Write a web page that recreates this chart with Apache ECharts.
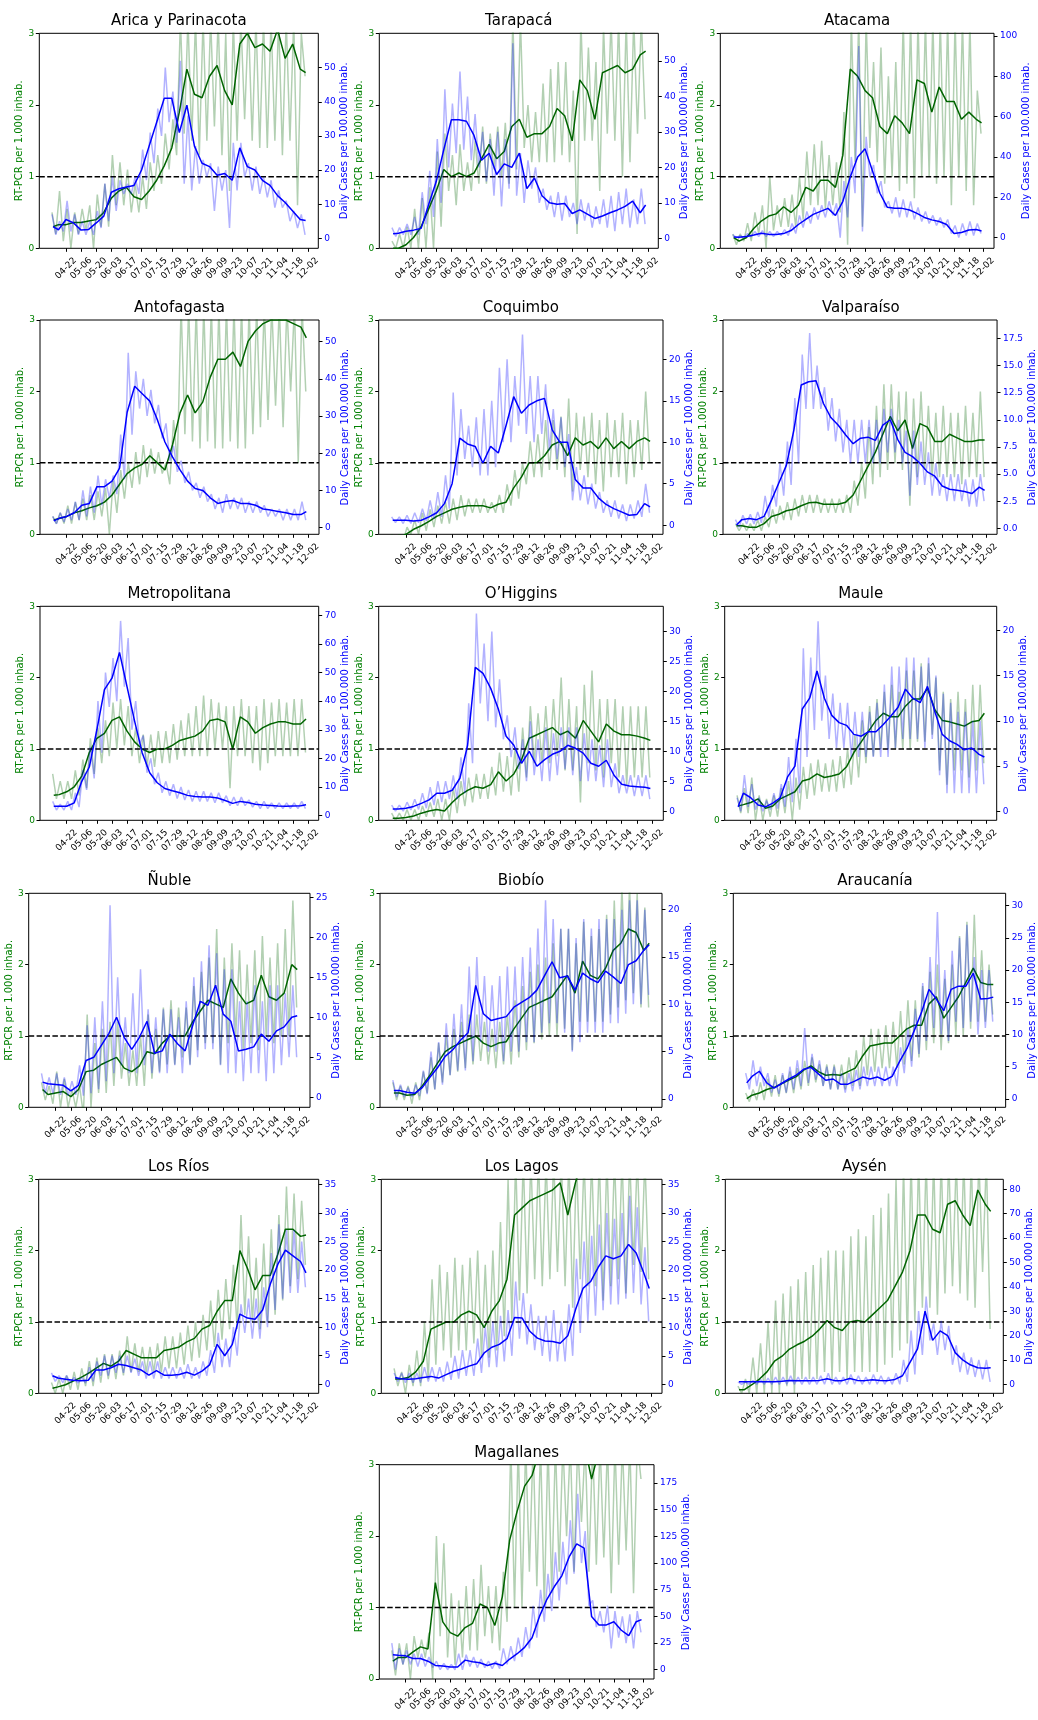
<!DOCTYPE html>
<html><head><meta charset="utf-8">
<script src="https://cdn.jsdelivr.net/npm/echarts@6/dist/echarts.min.js"></script>
<style>html,body{margin:0;padding:0;background:#fff}#c{width:1038px;height:1720px}</style>
</head><body><div id="c"></div><script>
// ---- shared dates (day 0 = 04-22) ----
const tickDays = [0,14,28,42,56,70,84,98,112,126,140,154,168,182,196,210,224];
const tickLabels = ['04-22','05-06','05-20','06-03','06-17','07-01','07-15','07-29','08-12','08-26','09-09','09-23','10-07','10-21','11-04','11-18','12-02'];
const smoothDays = [-12,-7,0,7,14,21,28,35,42,49,56,63,70,77,84,91,98,105,112,119,126,133,140,147,154,161,168,175,182,189,196,203,210,217,222];
const rawDays = Array.from({length:68},(_, k)=>-13+3.5*k);
const regionNames = ['Arica y Parinacota','Tarapacá','Atacama','Antofagasta','Coquimbo','Valparaíso','Metropolitana','O’Higgins','Maule','Ñuble','Biobío','Araucanía','Los Ríos','Los Lagos','Aysén','Magallanes'];
const casesTicks = [
 [0,10,20,30,40,50],[0,10,20,30,40,50],[0,20,40,60,80,100],
 [0,10,20,30,40,50],[0,5,10,15,20],[0,2.5,5,7.5,10,12.5,15,17.5],
 [0,10,20,30,40,50,60,70],[0,5,10,15,20,25,30],[0,5,10,15,20],
 [0,5,10,15,20,25],[0,5,10,15,20],[0,5,10,15,20,25,30],
 [0,5,10,15,20,25,30,35],[0,5,10,15,20,25,30,35],[0,10,20,30,40,50,60,70,80],
 [0,25,50,75,100,125,150,175]];
const referenceLevel = 1;

// ---- values ----
const aricaRtpcr = [0.3,0.33,0.33,0.36,0.36,0.38,0.4,0.5,0.7,0.8,0.85,0.72,0.68,0.8,0.95,1.15,1.4,1.9,2.5,2.15,2.1,2.4,2.55,2.2,2.0,2.85,3.0,2.8,2.85,2.75,3.05,2.65,2.85,2.5,2.45];
const aricaCases = [3.4,2.5,5.5,4.5,2.4,2.6,4.5,6.5,13.5,14.5,15,15.5,20,27,34,41,41,31,39,27,22,21,18.5,19,17,26.5,21,20,17,15.5,12.5,10.5,8,5.5,5.2];
const aricaRtpcrRaw = [0.5,0.2,0.8,0.1,0.55,0.0,0.5,0.2,0.55,0.25,0.6,0.0,0.75,0.3,0.9,0.3,1.3,0.6,1.2,0.6,1.1,0.5,0.9,0.5,1.0,0.55,1.2,0.8,1.3,0.9,1.6,1.1,1.8,1.3,3.2,1.6,3.2,1.5,3.2,1.3,3.2,1.5,3.2,1.7,3.2,1.3,3.0,0.8,3.2,1.5,3.2,1.8,3.2,1.5,3.2,1.4,3.2,1.4,3.2,1.5,3.2,1.3,3.2,1.5,3.2,0.6,3.0,2.4];
const aricaCasesRaw = [7,1,5,2,11,2,7,1,5,1,5,1,8,3,16,5,18,8,17,13,16,13,18,13,26,17,31,22,38,30,50,34,43,28,52,16,36,14,27,16,23,18,22,8,21,14,20,3,28,14,28,18,22,14,21,13,18,12,17,9,14,9,11,5,8,3,7,1];

const tarapacaRtpcr = [0,0,0.05,0.15,0.3,0.55,0.8,1.1,1.0,1.05,1.0,1.05,1.25,1.45,1.25,1.35,1.7,1.8,1.55,1.6,1.6,1.7,1.95,1.85,1.5,2.35,2.2,1.8,2.45,2.5,2.55,2.45,2.5,2.7,2.75];
const tarapacaCases = [1.3,1.4,2.0,2.3,2.8,9.5,16,25,33.4,33.4,33,29,22,24,18,21,20,24,14,17,12,10,9.6,9.8,7,8,6.8,5.6,6.3,7.2,8,9,10.5,7.2,9.4];
const tarapacaRtpcrRaw = [0.1,0.0,0.2,0.0,0.3,0.0,0.55,0.0,0.7,0.0,0.85,0.0,1.35,0.3,1.6,0.8,1.3,0.6,1.45,0.8,1.2,0.8,1.5,0.9,1.7,0.9,1.6,1.1,1.7,1.0,1.75,0.9,3.2,1.1,3.2,1.4,2.0,1.2,1.9,1.2,2.3,1.2,2.5,1.2,2.6,1.3,2.6,1.2,2.2,0.2,3.2,1.5,2.8,1.5,2.6,0.8,3.1,1.6,3.2,1.5,3.2,1.0,3.2,1.2,3.2,1.6,3.2,1.8];
const tarapacaCasesRaw = [3,0.5,3,1,4,1,6,1,13,4,19,6,28,10,42,20,38,24,47,25,40,22,35,20,30,16,28,12,30,9,28,14,55,12,24,10,22,14,20,10,14,8,12,6,13,5,12,6,10,4,11,5,10,3,9,4,11,3,12,2,13,4,14,3,11,4,14,4];

const atacamaRtpcr = [0.15,0.1,0.15,0.28,0.38,0.45,0.48,0.58,0.5,0.6,0.85,0.8,0.95,0.95,0.85,1.3,2.5,2.4,2.2,2.1,1.7,1.6,1.85,1.75,1.6,2.35,2.3,1.9,2.25,2.05,2.05,1.8,1.9,1.8,1.75];
const atacamaCases = [0.3,0.2,0.6,1.3,2.2,1.6,1.5,2.0,3.5,6.5,9,11.5,13,14.5,11,18,30,40,44,33,22,15,14.5,14.5,13.7,12,10,8.8,8,6.5,2,2.5,3.8,4,3.3];
const atacamaRtpcrRaw = [0.2,0.05,0.2,0.1,0.35,0.1,0.5,0.2,0.6,0.0,1.0,0.25,0.6,0.3,0.7,0.3,0.75,0.3,1.0,0.4,1.35,0.6,1.45,0.6,1.5,0.55,1.3,0.6,1.2,0.5,1.9,0.05,3.2,1.2,3.2,0.3,3.2,1.4,2.6,1.2,2.8,0.9,2.4,1.0,2.6,0.8,3.2,0.9,3.2,0.7,3.2,1.0,3.2,1.0,3.2,0.9,3.2,1.0,3.2,0.6,3.2,1.0,3.2,0.8,3.2,0.6,2.2,1.6];
const atacamaCasesRaw = [1.5,0,1,0,2,0.5,3,0.5,3.5,0.5,3,0.5,3,1,4,1,7,2,11,5,13,7,15,9,16,10,18,11,17,0,28,10,40,22,95,3,50,30,36,22,28,15,18,12,20,10,19,10,18,9,15,8,13,7,11,6,10,5,9,2,6,0,7,1,8,1,7,2];

const antofagastaRtpcr = [0.2,0.22,0.25,0.3,0.33,0.37,0.4,0.45,0.55,0.7,0.85,0.93,0.98,1.1,1.0,0.9,1.25,1.7,1.95,1.7,1.85,2.2,2.45,2.45,2.55,2.35,2.7,2.85,2.95,3.0,3.0,3.0,2.95,2.9,2.75];
const antofagastaCases = [1.8,2.5,3,4,6,6.5,11,11,12.5,16,31,38,36,34,29,23,19,15.5,12.5,10.5,10,8,6.5,7,7.3,6.5,6.5,6,5,4.7,4.3,4,3.5,3.5,4.3];
const antofagastaRtpcrRaw = [0.25,0.15,0.3,0.15,0.4,0.15,0.45,0.2,0.5,0.2,0.55,0.2,0.6,0.25,0.65,0.0,0.75,0.3,0.9,0.5,1.0,0.65,1.15,0.7,1.25,0.8,1.2,0.85,1.15,0.85,1.0,0.7,1.6,1.0,3.2,1.4,3.2,1.3,3.2,1.2,3.2,1.3,3.2,1.2,3.2,1.2,3.2,1.3,3.2,1.2,3.2,1.2,3.2,1.4,3.2,1.5,3.2,1.6,3.2,1.8,3.2,1.5,3.2,2.0,3.2,1.0,3.2,2.0];
const antofagastaCasesRaw = [3,1,4,1.5,5,2,7,2,10,3,11,4,14,6,13,8,14,9,25,13,47,25,42,32,40,30,37,28,33,24,28,18,22,15,18,12,15,10,12,8,11,7,9,5,8,4,9,5,8,5,8,4,7,4,7,4,6,3,5,3,5,2,5,2,5,2,7,2];

const coquimboRtpcr = [-0.1,-0.05,0.0,0.07,0.12,0.18,0.25,0.3,0.35,0.38,0.4,0.4,0.4,0.37,0.42,0.45,0.65,0.8,1.0,1.0,1.1,1.25,1.3,1.1,1.35,1.25,1.3,1.2,1.35,1.2,1.3,1.2,1.3,1.35,1.3];
const coquimboCases = [0.6,0.6,0.6,0.5,0.6,1.0,1.5,2.6,5.0,10.5,9.8,9.5,7.5,9.5,8.7,12,15.5,13.5,14.5,15,15.3,11.5,10,10,5.5,4.5,4.5,3.3,2.5,2,1.6,1.2,1.3,2.6,2.2];
const coquimboRtpcrRaw = [0.0,-0.1,0.0,-0.1,0.1,0.0,0.2,0.0,0.3,0.05,0.35,0.1,0.4,0.15,0.45,0.15,0.5,0.2,0.55,0.25,0.5,0.3,0.5,0.3,0.5,0.3,0.45,0.3,0.55,0.3,0.7,0.4,0.9,0.5,1.0,0.7,1.3,0.8,1.4,0.8,1.6,0.9,1.6,0.9,1.65,0.8,1.9,0.6,1.7,0.9,1.65,0.8,1.7,0.7,1.6,0.6,1.7,0.8,1.6,0.8,1.7,0.7,1.6,0.8,1.6,0.9,2.0,1.0];
const coquimboCasesRaw = [1,0.3,1,0.2,1.2,0.2,1.5,0.3,2,0.5,3,0.8,4,1,6,2,16,6,14,8,12,7,13,6,14,6,15,7,19,10,20,10,18,12,23,11,18,10,18,11,17,9,14,8,13,7,11,3,7,3,6,2.5,5,2,4,1.5,3,1,3,0.8,2.5,0.5,2.5,0.8,3,1,5,1.5];

const valparaisoRtpcr = [0.12,0.12,0.1,0.1,0.15,0.25,0.28,0.33,0.35,0.4,0.44,0.45,0.42,0.42,0.42,0.45,0.55,0.75,0.95,1.15,1.4,1.65,1.45,1.6,1.2,1.55,1.5,1.3,1.3,1.4,1.35,1.3,1.3,1.32,1.32];
const valparaisoCases = [0.3,0.8,0.9,0.8,1.1,2.6,4.2,5.8,9,13.2,13.5,13.6,11.5,10.2,9.5,8.6,7.8,8.3,8.4,8.1,9.5,10,8.2,7,6.6,6,5.2,4.8,3.9,3.6,3.5,3.4,3.2,3.8,3.5];
const valparaisoRtpcrRaw = [0.15,0.05,0.15,0.05,0.15,0.05,0.2,0.05,0.25,0.1,0.35,0.15,0.4,0.2,0.45,0.2,0.5,0.25,0.55,0.3,0.55,0.3,0.55,0.3,0.5,0.3,0.5,0.3,0.5,0.3,0.55,0.3,0.75,0.4,1.0,0.5,1.5,0.7,1.8,0.8,2.1,0.9,2.1,1.0,2.0,0.9,2.0,0.4,1.9,0.8,2.0,0.9,1.8,0.8,1.7,0.8,1.8,0.8,1.7,0.8,1.7,0.7,1.8,0.8,1.7,0.8,2.0,0.8];
const valparaisoCasesRaw = [0.8,0.1,1.2,0.4,1.3,0.4,1.5,0.5,3,1,4,2,6,3,8,4,12,6,16,11,18,11,15,11,13,9,12,8,11,7,10,6,10,6,10,6,10,6,10,6,11,7,11,7,10,6,9,3,9,4,8,4,7,3,6,3,5,2.5,5,2.5,5,2.5,4.5,2,4.5,2,5,2.5];

const metropolitanaRtpcr = [0.35,0.36,0.4,0.47,0.62,0.95,1.15,1.22,1.4,1.45,1.25,1.1,1.0,0.95,1.0,1.0,1.05,1.12,1.15,1.18,1.25,1.4,1.42,1.38,1.0,1.45,1.38,1.22,1.3,1.35,1.38,1.38,1.35,1.35,1.42];
const metropolitanaCases = [3.3,3.3,3.3,4.5,12,17,30,44,48,57,45,33,22,15,11.5,9.5,8.7,8,7.1,6.7,6.5,6.5,6.2,5.3,4.3,5.0,4.6,4.0,3.7,3.6,3.4,3.3,3.4,3.5,3.8];
const metropolitanaRtpcrRaw = [0.65,0.3,0.55,0.3,0.55,0.3,0.7,0.35,0.85,0.45,1.15,0.65,1.3,0.8,1.4,0.9,1.65,1.0,1.7,1.05,1.6,0.9,1.3,0.8,1.2,0.75,1.2,0.75,1.25,0.8,1.25,0.8,1.35,0.85,1.4,0.9,1.5,0.9,1.6,0.9,1.75,0.9,1.7,1.0,1.65,1.0,1.6,0.45,1.6,0.9,1.7,0.9,1.6,0.8,1.6,0.7,1.7,0.8,1.65,0.9,1.7,0.9,1.65,0.9,1.7,0.9,1.7,0.95];
const metropolitanaCasesRaw = [5,2,4,2,5,2,8,3,16,9,24,13,40,22,50,38,55,40,68,45,62,30,40,25,28,15,20,11,15,8,12,7,11,6,10,5.5,9,5,8.5,5,8.5,5,8,4.5,8,4.5,7,3.5,6.5,3.5,6.5,3.5,5.5,3,5,2.5,5,2.5,4.5,2.5,4.5,2.5,4.5,2.5,4.5,2.5,5,2.5];

const ohigginsRtpcr = [0.03,0.03,0.04,0.06,0.1,0.13,0.15,0.13,0.25,0.35,0.42,0.47,0.45,0.5,0.68,0.55,0.65,0.85,1.15,1.2,1.25,1.3,1.2,1.25,1.15,1.4,1.25,1.1,1.35,1.25,1.2,1.2,1.18,1.15,1.12];
const ohigginsCases = [0.35,0.35,0.5,0.8,1.3,1.9,3,3,3.5,5.5,11,24,23,20.5,17,12.5,11,8,10,7.5,8.6,9.5,10,11,10.5,9.7,8,7.5,8.5,6,4.5,4.2,4.1,4.0,3.8];
const ohigginsRtpcrRaw = [0.1,0.0,0.1,0.0,0.15,0.0,0.15,0.0,0.2,0.05,0.25,0.05,0.3,0.0,0.3,0.0,0.45,0.1,0.55,0.2,0.6,0.25,0.65,0.3,0.65,0.3,0.75,0.35,0.95,0.4,0.9,0.35,1.0,0.4,1.3,0.6,1.6,0.8,1.5,0.8,1.6,0.8,1.7,0.9,2.0,0.7,1.7,0.7,1.6,0.25,1.9,0.8,2.1,0.7,1.7,0.6,1.7,0.8,1.7,0.6,1.6,0.5,1.6,0.6,1.6,0.6,1.6,0.6];
const ohigginsCasesRaw = [1,0,1,0,1.5,0.2,2,0.3,3,0.5,4,1,5,1.5,5,2,6,2,9,3,18,8,33,18,28,15,30,14,22,12,16,9,14,7,12,5,15,6,12,5,14,5,13,6,14,7,14,6,14,5,13,5,12,5,11,4,12,4,8,3,6,3,6,2.5,6,2.5,6,2];

const mauleRtpcr = [0.2,0.22,0.25,0.3,0.17,0.2,0.3,0.35,0.4,0.55,0.58,0.65,0.6,0.62,0.65,0.75,0.95,1.1,1.25,1.4,1.5,1.45,1.45,1.6,1.7,1.7,1.85,1.55,1.4,1.38,1.35,1.32,1.38,1.4,1.5];
const mauleCases = [0.5,2.0,1.5,0.7,0.5,0.9,1.5,3.8,5.0,11.3,12.5,15.5,12.5,10.6,9.8,9.5,8.5,8.3,8.8,8.8,9.6,10.5,11.5,13.5,12.5,12,13.8,11,8.5,7.8,7.4,6.8,7,6.3,6];
const mauleRtpcrRaw = [0.35,0.1,0.45,0.1,0.6,0.0,0.35,0.0,0.3,0.05,0.35,0.05,0.45,0.1,0.55,0.0,0.6,0.15,0.75,0.3,0.8,0.35,0.85,0.4,0.8,0.4,0.85,0.4,0.9,0.45,1.0,0.5,1.2,0.6,1.4,0.8,1.6,0.9,1.7,1.0,1.8,1.0,1.9,1.0,1.8,1.0,2.1,1.0,2.1,1.1,2.2,1.1,2.2,1.2,2.0,0.7,1.8,0.5,1.7,0.7,1.8,0.7,1.7,0.6,1.9,0.7,1.9,0.8];
const mauleCasesRaw = [1.5,0,4,0.5,3,0.2,1.5,0,1.2,0.2,2,0.3,3,0.5,6,1,8,2,18,6,17,9,21,10,15,8,13,7,12,7,12,6,11,6,11,6,11,6,12,6,14,6,16,7,16,8,17,8,17,8,16,7,17,8,15,4,13,2,12,2,11,2,11,2,10,2,10,3];

const nubleRtpcr = [0.25,0.18,0.2,0.22,0.15,0.25,0.5,0.52,0.6,0.65,0.7,0.55,0.5,0.58,0.78,0.75,0.9,1.0,1.0,1.0,1.2,1.35,1.5,1.45,1.4,1.8,1.6,1.45,1.5,1.85,1.55,1.5,1.6,2.0,1.93];
const nubleCases = [1.9,1.7,1.6,1.5,0.8,1.5,4.6,5,6.5,8,10,7.5,6,7.5,9.5,5.5,5.8,7.9,6.7,5.8,9,12,11.5,14,10.4,9.5,5.8,6,6.3,7.9,7,8.3,8.8,10,10.2];
const nubleRtpcrRaw = [0.35,0.1,0.3,0.05,0.5,0.0,0.4,0.0,0.25,0.0,0.3,-0.1,1.3,0.0,0.9,0.2,1.1,0.2,1.2,0.3,1.2,0.4,0.9,0.3,0.8,0.3,1.0,0.3,1.3,0.4,1.1,0.5,1.4,0.6,1.5,0.6,1.4,0.7,1.4,0.6,1.7,0.8,1.9,0.9,2.1,0.9,2.5,0.6,2.1,0.9,2.3,1.0,2.2,0.8,2.0,0.9,2.2,0.8,2.4,1.0,2.1,0.9,2.3,1.0,2.5,1.0,2.9,1.4];
const nubleCasesRaw = [3,0.5,2.5,0.5,3,0.3,2.5,0.2,2,0.3,4,0.2,9,0.5,10,1,12,2,24,3,15,4,10,3,13,3,16,4,11,3,10,3,11,3,11,4,10,3,12,4,15,5,17,6,19,6,18,4,16,3,16,3,12,2,12,3,14,3,12,2,14,3,14,4,13,5,14,5];

const biobioRtpcr = [0.2,0.2,0.17,0.18,0.3,0.45,0.62,0.78,0.85,0.9,0.95,1.0,0.9,0.85,0.9,0.92,1.1,1.25,1.4,1.45,1.5,1.55,1.7,1.85,1.6,2.05,1.85,1.8,1.95,2.2,2.3,2.5,2.45,2.2,2.3];
const biobioCases = [0.9,0.9,0.7,0.6,1.2,2.3,3.3,4.5,5.2,6.2,7,12,9,8.3,8.5,8.7,9.7,10.2,10.7,11.5,13,14.5,12.8,13,11.5,13.3,12.7,12.3,13.5,12.9,12.2,14.2,14.6,15.7,16.3];
const biobioRtpcrRaw = [0.35,0.1,0.3,0.1,0.3,0.05,0.35,0.1,0.5,0.2,0.7,0.25,0.9,0.35,1.0,0.45,1.1,0.5,1.2,0.55,1.3,0.6,1.3,0.65,1.2,0.6,1.1,0.55,1.2,0.6,1.3,0.6,1.5,0.7,1.7,0.8,1.9,0.9,2.0,0.95,2.1,1.0,2.3,1.0,2.5,1.1,2.5,0.8,2.3,1.2,2.6,1.2,2.4,1.2,2.5,1.2,2.7,1.3,2.9,1.4,3.1,1.5,3.1,1.6,3.0,1.4,2.8,1.4];
const biobioCasesRaw = [2,0.2,1.5,0.2,1.2,0.2,1.5,0.3,3,0.5,5,1,6,1.5,8,2.5,9,3,10,3,14,4,15,6,13,5,12,5,13,4,14,5,14,5,15,6,16,6,18,7,21,8,19,8,18,7,18,5,17,6,19,7,18,7,19,7,19,8,19,8,20,9,21,10,21,10,20,11];

const araucaniaRtpcr = [0.12,0.17,0.2,0.25,0.28,0.33,0.38,0.43,0.52,0.58,0.5,0.45,0.46,0.45,0.5,0.55,0.72,0.86,0.88,0.9,0.9,1.0,1.1,1.15,1.15,1.45,1.55,1.25,1.4,1.55,1.75,1.95,1.75,1.72,1.72];
const araucaniaCases = [2.5,3.5,4.3,2.5,1.7,2.4,3.1,3.7,4.6,4.9,3.9,2.9,3.1,2.3,2.3,2.8,3.4,3.1,3.4,2.9,3.5,5.8,7.8,10.6,13.5,17,15.5,13.7,17,17.5,17.5,19.5,15.5,15.6,15.8];
const araucaniaRtpcrRaw = [0.2,0.08,0.25,0.1,0.35,0.1,0.4,0.15,0.45,0.15,0.45,0.2,0.5,0.2,0.55,0.25,0.65,0.3,0.7,0.35,0.6,0.3,0.6,0.25,0.6,0.25,0.6,0.25,0.7,0.3,0.8,0.3,1.0,0.45,1.1,0.5,1.1,0.55,1.15,0.55,1.2,0.55,1.35,0.6,1.5,0.65,1.5,0.7,1.7,0.8,1.9,0.9,2.0,0.8,1.8,0.9,2.0,1.0,2.4,1.0,2.6,1.1,2.7,1.2,2.2,1.2,2.0,1.3];
const araucaniaCasesRaw = [4,1.5,6,2,5,2,4,1,3,0.8,4,1,5,1.5,6,2,11,2.5,7,3,6,2,5,1.5,5,1.5,4,1,4,1.2,4.5,1.5,5,2,5,2,5,2,5,2,5,2,8,4,11,5,14,7,18,9,22,11,29,10,20,9,23,12,25,11,27,12,22,10,20,11,20,12];

const losRiosRtpcr = [0.07,0.09,0.12,0.17,0.22,0.28,0.35,0.42,0.38,0.45,0.6,0.55,0.5,0.5,0.5,0.6,0.62,0.65,0.72,0.77,0.9,0.95,1.15,1.3,1.3,2.0,1.75,1.45,1.65,1.65,1.95,2.3,2.3,2.2,2.22];
const losRiosCases = [1.5,1.1,0.9,0.7,0.6,0.7,2.5,2.5,2.9,3.5,3.3,2.9,2.5,1.6,2.4,1.6,1.6,1.7,2.1,1.6,2.3,3.4,7,5,7,12.3,11.6,11.4,13,17.5,21,23.5,22.5,21.5,19.5];
const losRiosRtpcrRaw = [0.15,0.0,0.2,0.0,0.25,0.05,0.3,0.05,0.35,0.1,0.45,0.1,0.5,0.15,0.55,0.2,0.55,0.2,0.6,0.25,0.8,0.3,0.7,0.3,0.65,0.3,0.65,0.3,0.7,0.3,0.8,0.35,0.8,0.35,0.85,0.4,0.95,0.45,1.0,0.5,1.1,0.6,1.3,0.65,1.45,0.75,1.6,0.9,1.8,0.9,2.5,1.1,2.2,1.0,1.9,0.9,2.1,1.0,2.3,1.1,2.5,1.3,2.9,1.5,2.8,1.6,2.7,1.8];
const losRiosCasesRaw = [2,0.5,1.5,0.3,1.5,0.3,1.2,0.2,1.2,0.2,3,0.5,4,1.5,5,1.5,5,2,5,2,5,2,4.5,1.5,4,1,4,1,4,1,3,1,3,1,3,1,3.5,1,3,1,4,1.5,6,2,9,3,8,3,10,5,14,9,15,8,15,8,17,10,23,13,28,15,27,16,27,16,25,17];

const losLagosRtpcr = [0.2,0.2,0.22,0.3,0.45,0.9,0.95,1.0,1.0,1.1,1.15,1.1,0.92,1.15,1.3,1.6,2.5,2.6,2.7,2.75,2.8,2.85,2.95,2.5,2.95,3.3,3.3,3.3,3.3,3.3,3.3,3.3,3.3,3.3,3.3];
const losLagosCases = [1.2,1.0,0.9,1.0,1.2,1.4,1.1,1.7,2.3,2.7,3.2,3.6,5.5,6.5,7,8,11.7,11.6,9.3,8.1,7.6,7.5,7.2,8.5,13,16.8,18,20.5,22.5,22,22.5,24.5,23,19.5,16.8];
const losLagosRtpcrRaw = [0.35,0.1,0.3,0.0,0.4,0.1,0.6,0.1,1.0,0.2,1.6,0.4,1.8,0.6,1.7,0.5,1.9,0.6,1.8,0.6,1.9,0.7,2.0,0.5,1.8,0.5,2.0,0.6,2.4,0.8,3.0,1.0,3.3,1.3,3.3,1.4,3.3,1.6,3.3,1.5,3.3,1.6,3.3,1.7,3.3,1.5,3.3,1.2,3.3,1.6,3.3,1.5,3.3,1.5,3.3,1.3,3.3,1.5,3.3,1.6,3.3,1.4,3.3,1.8,3.3,1.7,3.3,1.6];
const losLagosCasesRaw = [2,0.5,2,0.3,2,0.3,2,0.3,3,0.5,3,0.5,3,0.5,4,0.8,5,1,6,1.5,6,1.5,8,2,10,3,11,3,12,4,13,5,18,8,16,7,14,6,12,5,12,4,13,4,11,4,14,5,22,9,25,11,26,12,28,13,30,14,29,14,30,15,33,16,31,14,24,11];

const aysenRtpcr = [0.05,0.05,0.12,0.2,0.3,0.45,0.52,0.62,0.68,0.73,0.8,0.9,1.02,0.92,0.88,1.0,1.02,1.0,1.1,1.2,1.3,1.5,1.7,2.0,2.5,2.5,2.3,2.25,2.65,2.7,2.5,2.35,2.85,2.65,2.55];
const aysenCases = [1.0,1.0,1.0,1.0,1.0,1.0,1.2,1.6,1.4,1.4,1.4,1.6,2.3,1.5,1.5,2.4,1.6,1.5,1.9,1.6,1.5,2.0,3.5,9,14.5,30,18,21.9,20,13,10,8,6.8,6.6,6.8];
const aysenRtpcrRaw = [0.1,0.0,0.2,0.0,0.5,0.0,0.7,0.0,1.0,0.0,1.3,0.0,1.4,0.1,1.5,0.0,1.6,0.2,1.7,0.2,1.8,0.2,1.9,0.3,2.0,0.2,2.0,0.3,2.0,0.2,2.2,0.3,2.3,0.3,2.2,0.3,2.5,0.3,2.6,0.4,2.8,0.5,3.0,0.6,3.2,0.7,3.3,1.0,3.3,1.2,3.3,1.2,3.3,1.1,3.3,1.4,3.3,1.5,3.3,1.4,3.3,1.3,3.3,1.2,3.3,1.7,3.3,0.9];
const aysenCasesRaw = [1,0,1,0,1.5,0,2,0,2.5,0,3,0,3,0,3.5,0,3,0,3,0,3,0,3.5,0,4.5,0,3,0,3,0,4,0,3.5,0,3,0,4,0,3.5,0,3,0,4.5,0,10,1,22,4,30,12,36,18,25,12,26,14,24,8,16,5,13,4,11,3,10,2,10,1];

const magallanesRtpcr = [0.25,0.3,0.3,0.38,0.45,0.42,1.35,0.8,0.65,0.6,0.72,0.78,1.05,1.0,0.75,1.15,1.95,2.35,2.7,2.85,3.2,3.3,3.4,3.5,3.5,3.5,3.3,2.8,3.2,3.4,3.5,3.5,3.5,3.5,3.5];
const magallanesCases = [14,13.5,13,10.5,10.5,8,4,3.5,2.5,2.5,9,7.5,6.5,4,6,4,10,15,21,30,50,66,78,88,106,118,114,50,42,42,45,37,32,45,47];
const magallanesRtpcrRaw = [0.4,0.05,0.5,0.2,0.5,0.0,0.6,0.3,0.55,0.3,0.65,0.0,2.0,0.6,1.9,0.3,1.2,0.2,1.1,0.3,1.3,0.4,1.4,0.4,1.6,0.6,1.3,0.5,1.3,0.4,1.5,0.8,3.3,1.0,3.3,1.0,3.3,1.5,3.3,1.3,3.3,1.0,3.3,1.2,3.3,1.5,3.3,2.0,3.3,1.5,3.3,2.2,3.3,1.5,3.3,1.6,3.3,1.7,3.3,1.2,3.3,1.6,3.3,1.8,3.3,1.2,3.3,2.8];
const magallanesCasesRaw = [25,0,20,5,18,5,15,3,15,3,12,2,8,0,6,0,5,0,15,0,14,3,12,2,10,2,8,1,8,1,20,5,22,8,30,12,40,20,60,30,75,45,90,55,110,65,120,80,140,90,165,100,130,60,65,40,55,35,60,20,55,30,50,25,52,20,55,35];

const rtpcrSmooth = [aricaRtpcr,tarapacaRtpcr,atacamaRtpcr,antofagastaRtpcr,coquimboRtpcr,valparaisoRtpcr,metropolitanaRtpcr,ohigginsRtpcr,mauleRtpcr,nubleRtpcr,biobioRtpcr,araucaniaRtpcr,losRiosRtpcr,losLagosRtpcr,aysenRtpcr,magallanesRtpcr];
const rtpcrRaw = [aricaRtpcrRaw,tarapacaRtpcrRaw,atacamaRtpcrRaw,antofagastaRtpcrRaw,coquimboRtpcrRaw,valparaisoRtpcrRaw,metropolitanaRtpcrRaw,ohigginsRtpcrRaw,mauleRtpcrRaw,nubleRtpcrRaw,biobioRtpcrRaw,araucaniaRtpcrRaw,losRiosRtpcrRaw,losLagosRtpcrRaw,aysenRtpcrRaw,magallanesRtpcrRaw];
const casesSmooth = [aricaCases,tarapacaCases,atacamaCases,antofagastaCases,coquimboCases,valparaisoCases,metropolitanaCases,ohigginsCases,mauleCases,nubleCases,biobioCases,araucaniaCases,losRiosCases,losLagosCases,aysenCases,magallanesCases];
const casesRaw = [aricaCasesRaw,tarapacaCasesRaw,atacamaCasesRaw,antofagastaCasesRaw,coquimboCasesRaw,valparaisoCasesRaw,metropolitanaCasesRaw,ohigginsCasesRaw,mauleCasesRaw,nubleCasesRaw,biobioCasesRaw,araucaniaCasesRaw,losRiosCasesRaw,losLagosCasesRaw,aysenCasesRaw,magallanesCasesRaw];

// ---- layout (pixels) ----
const layout = [
 {l:39.3,t:33.3,w:279,h:215,rmin:-2.93,rmax:60.06,gap:20},
 {l:379.3,t:33.3,w:279,h:215,rmin:-2.82,rmax:57.8,gap:20},
 {l:720.3,t:33.3,w:273.7,h:215,rmin:-5.3,rmax:101.3,gap:25},
 {l:40,t:320,w:279,h:214.3,rmin:-1.8,rmax:55.8,gap:20},
 {l:378.7,t:320,w:284.3,h:214.3,rmin:-1.1,rmax:24.75,gap:20},
 {l:723,t:320,w:275.7,h:214.3,rmin:-0.55,rmax:19.19,gap:27,dec:1},
 {l:40,t:606.3,w:278.7,h:214,rmin:-1.6,rmax:73.1,gap:20},
 {l:378.7,t:606.3,w:284.6,h:214,rmin:-1.52,rmax:34.2,gap:20},
 {l:724.7,t:606.3,w:272,h:214,rmin:-0.99,rmax:22.65,gap:20},
 {l:28.7,t:893.3,w:281.3,h:214,rmin:-1.25,rmax:25.5,gap:20},
 {l:380,t:893.3,w:282,h:214,rmin:-0.88,rmax:21.73,gap:20},
 {l:733.3,t:893.3,w:283.4,h:214,rmin:-1.29,rmax:31.9,gap:20},
 {l:38.7,t:1179.3,w:280,h:214,rmin:-1.58,rmax:35.9,gap:20},
 {l:381.3,t:1179.3,w:280.7,h:214,rmin:-1.56,rmax:35.9,gap:20},
 {l:725.3,t:1179.3,w:278,h:214,rmin:-3.7,rmax:84.1,gap:20},
 {l:379.3,t:1464.7,w:274.7,h:214.3,rmin:-8.7,rmax:192.2,gap:25}
];
const X_MIN = -24.75, X_MAX = 233.75;

const FONT = 'DejaVu Sans';
const DKGREEN = '#006400', GREEN_TXT = '#008000', BLUE = '#0000ff';
const grids=[], xAxes=[], yAxes=[], series=[], titles=[];
const pair = (days, vals) => days.map((d,k)=>[d, vals[k]]);

regionNames.forEach((name,i)=>{
  const L = layout[i];
  grids.push({left:L.l,top:L.t,width:L.w,height:L.h,show:true,borderColor:'#000',borderWidth:1,backgroundColor:'transparent'});
  titles.push({text:name,left:L.l+L.w/2,top:L.t-21,textAlign:'center',padding:0,
    textStyle:{fontFamily:FONT,fontSize:15,fontWeight:'normal',color:'#000',lineHeight:18}});
  xAxes.push({gridIndex:i,type:'value',min:X_MIN,max:X_MAX,splitLine:{show:false},axisLine:{show:false,onZero:false},
    axisTick:{show:true,length:3.5,customValues:tickDays.slice(),lineStyle:{color:'#000',width:1}},
    axisLabel:{customValues:tickDays.slice(),formatter:v=>{const k=tickDays.indexOf(Math.round(v));return k>=0?tickLabels[k]:'';},
      rotate:45,align:'center',verticalAlign:'middle',margin:20,fontSize:9,fontFamily:FONT,color:'#000',hideOverlap:false}});
  yAxes.push({gridIndex:i,type:'value',position:'left',min:0,max:3,interval:1,splitLine:{show:false},axisLine:{show:false,onZero:false},
    axisTick:{show:true,length:3.5,lineStyle:{color:'#000'}},
    axisLabel:{margin:5,fontSize:9,fontFamily:FONT,color:GREEN_TXT},
    name:'RT-PCR per 1.000 inhab.',nameLocation:'middle',nameRotate:90,nameGap:14.5,
    nameTextStyle:{fontSize:10,fontFamily:FONT,color:GREEN_TXT}});
  yAxes.push({gridIndex:i,type:'value',position:'right',min:L.rmin,max:L.rmax,splitLine:{show:false},axisLine:{show:false,onZero:false},
    axisTick:{show:true,length:3.5,customValues:casesTicks[i].slice(),lineStyle:{color:'#000'}},
    axisLabel:{customValues:casesTicks[i].slice(),formatter:v=>Number(v).toFixed(L.dec||0),margin:6,fontSize:9,fontFamily:FONT,color:BLUE},
    name:'Daily Cases per 100.000 inhab.',nameLocation:'middle',nameRotate:90,nameGap:L.gap,
    nameTextStyle:{fontSize:10,fontFamily:FONT,color:BLUE}});
  const base = {type:'line',xAxisIndex:i,showSymbol:false,symbol:'none',silent:true,clip:true,emphasis:{disabled:true},animation:false,tooltip:{show:false}};
  series.push(Object.assign({},base,{yAxisIndex:2*i,data:pair(rawDays,rtpcrRaw[i]),lineStyle:{color:DKGREEN,width:1.5,opacity:0.3}}));
  series.push(Object.assign({},base,{yAxisIndex:2*i,data:pair(smoothDays,rtpcrSmooth[i]),lineStyle:{color:DKGREEN,width:1.5}}));
  series.push(Object.assign({},base,{yAxisIndex:2*i,data:[[X_MIN,referenceLevel],[X_MAX,referenceLevel]],lineStyle:{color:'#000',width:1.5,type:[5.5,2.4]}}));
  series.push(Object.assign({},base,{yAxisIndex:2*i+1,data:pair(rawDays,casesRaw[i]),lineStyle:{color:BLUE,width:1.5,opacity:0.3}}));
  series.push(Object.assign({},base,{yAxisIndex:2*i+1,data:pair(smoothDays,casesSmooth[i]),lineStyle:{color:BLUE,width:1.5}}));
});

const chart = echarts.init(document.getElementById('c'), null, {renderer:'canvas'});
chart.setOption({animation:false,backgroundColor:'#fff',title:titles,grid:grids,xAxis:xAxes,yAxis:yAxes,series:series});
</script></body></html>
